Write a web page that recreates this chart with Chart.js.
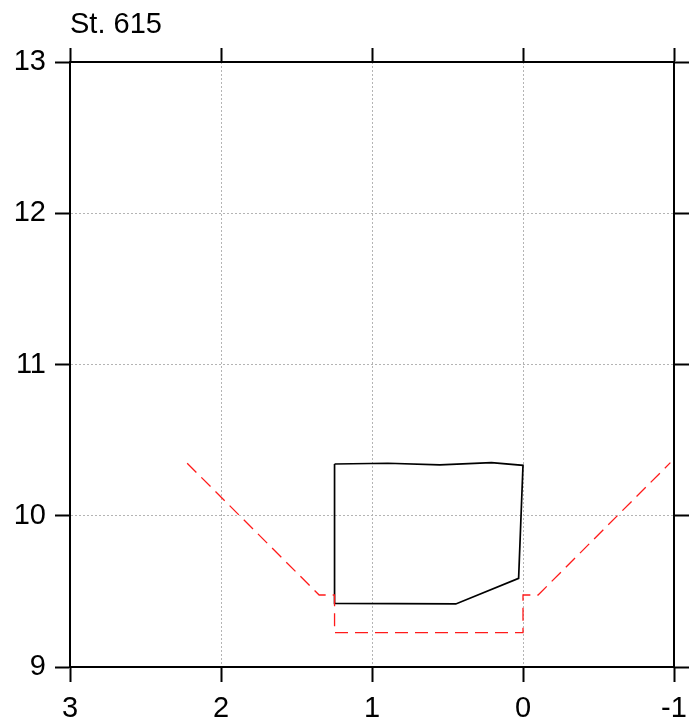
<!DOCTYPE html>
<html>
<head>
<meta charset="utf-8">
<title>St. 615</title>
<script src="https://cdn.jsdelivr.net/npm/chart.js@4.4.1/dist/chart.umd.min.js"></script>
<style>
  html, body { margin: 0; padding: 0; background: #fff; }
  canvas { display: block; }
</style>
</head>
<body>
<canvas id="secaoChart" width="690" height="727"></canvas>
<script>
// Secao de projeto (vermelho tracejado)
var projetoX = [2.224, 1.35, 1.248, 1.248, 0.0, 0.0, -0.1, -0.976]
var projetoY = [10.347, 9.476, 9.476, 9.227, 9.227, 9.476, 9.476, 10.351]

// Contorno medido (preto)
var medidoX = [1.248, 0.895, 0.551, 0.209, 0.0, 0.029, 0.445, 1.248, 1.248]
var medidoY = [10.342, 10.347, 10.336, 10.351, 10.333, 9.586, 9.417, 9.421, 10.342]

// Eixos
var xTicks = [3, 2, 1, 0, -1]
var yTicks = [9, 10, 11, 12, 13]
var titulo = 'St. 615'

function pontos(xs, ys){
  return xs.map((x, i) => ({x: x, y: ys[i]}))
}

function fixaTicks(lista){
  return function(scale){
    scale.ticks = lista.map((v) => ({value: v}))
  }
}

// tamanho fixo dos eixos, sem folga extra para os rotulos
function fixaTamanho(w, h){
  return function(s){
    if (w != null) s.width = w
    if (h != null) s.height = h
    s.paddingLeft = 0
    s.paddingRight = 0
    s.paddingTop = 0
    s.paddingBottom = 0
  }
}

Chart.defaults.font.family = "'Liberation Sans', Arial, sans-serif"
Chart.defaults.color = '#000'

var gradeCor = '#b4b4b4'

var secaoChart = new Chart(document.getElementById('secaoChart'), {
  type: 'scatter',
  data: {
    datasets: [
      {
        label: 'Projeto',
        data: pontos(projetoX, projetoY),
        showLine: true,
        borderColor: '#ff1a1a',
        borderWidth: 1.3,
        borderDash: [13, 7],
        pointRadius: 0,
        fill: false
      },
      {
        label: 'Medido',
        data: pontos(medidoX, medidoY),
        showLine: true,
        borderColor: '#000000',
        borderWidth: 1.7,
        pointRadius: 0,
        fill: false
      }
    ]
  },
  options: {
    responsive: false,
    animation: false,
    layout: { padding: 0 },
    plugins: {
      legend: { display: false },
      tooltip: { enabled: false }
    },
    scales: {
      x: {
        type: 'linear',
        position: 'bottom',
        reverse: true,
        min: Math.min(...xTicks),
        max: Math.max(...xTicks),
        afterBuildTicks: fixaTicks(xTicks),
        afterFit: fixaTamanho(null, 60),
        ticks: { color: '#000', font: { size: 29 }, padding: 10, maxRotation: 0 },
        grid: { color: gradeCor, lineWidth: 1, tickLength: 15, tickColor: '#000', tickWidth: 2 },
        border: { color: '#000', width: 2, dash: [2, 2] }
      },
      x2: {
        type: 'linear',
        position: 'top',
        min: Math.min(...xTicks),
        max: Math.max(...xTicks),
        afterBuildTicks: fixaTicks(xTicks),
        afterFit: fixaTamanho(null, 62),
        ticks: { display: false },
        grid: { drawOnChartArea: false, tickLength: 14, tickColor: '#000', tickWidth: 2 },
        border: { color: '#000', width: 2 },
        title: {
          display: true,
          text: titulo,
          align: 'start',
          color: '#000',
          font: { size: 29 },
          padding: { top: 8, bottom: 0 }
        }
      },
      y: {
        type: 'linear',
        position: 'left',
        min: Math.min(...yTicks),
        max: Math.max(...yTicks),
        afterBuildTicks: fixaTicks(yTicks),
        afterFit: fixaTamanho(70, null),
        ticks: { color: '#000', font: { size: 29 }, padding: 9 },
        grid: { color: gradeCor, lineWidth: 1, tickLength: 15, tickColor: '#000', tickWidth: 2 },
        border: { color: '#000', width: 2, dash: [2, 2] }
      },
      y2: {
        type: 'linear',
        position: 'right',
        min: Math.min(...yTicks),
        max: Math.max(...yTicks),
        afterBuildTicks: fixaTicks(yTicks),
        afterFit: fixaTamanho(16, null),
        ticks: { display: false },
        grid: { drawOnChartArea: false, tickLength: 15, tickColor: '#000', tickWidth: 2 },
        border: { color: '#000', width: 2 }
      }
    }
  }
});
</script>
</body>
</html>
